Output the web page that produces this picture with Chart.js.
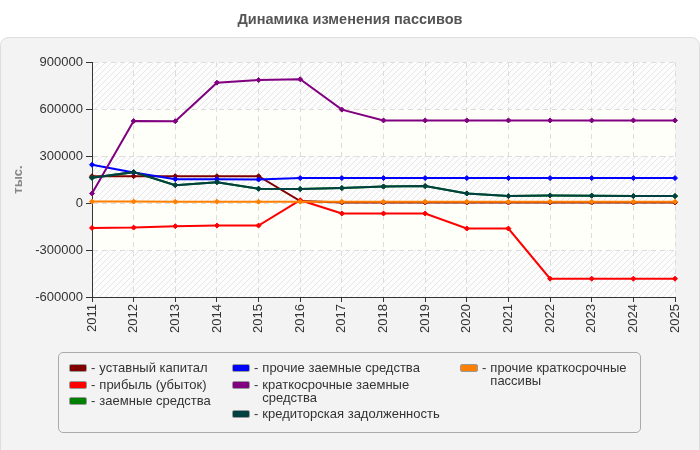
<!DOCTYPE html>
<html>
<head>
<meta charset="utf-8">
<script src="https://cdn.jsdelivr.net/npm/chart.js@4"></script>
<style>
  html,body{margin:0;padding:0;background:#fff;}
  #wrap{position:relative;width:700px;height:450px;}
  canvas{position:absolute;left:0;top:0;}
  #legend{position:absolute;left:58px;top:352px;width:581px;height:79px;border:1px solid #aaa;border-radius:5px;
    font-family:"Liberation Sans",Arial,sans-serif;font-size:13px;color:#333;}
  .col{position:absolute;top:8px;display:flex;flex-direction:column;gap:3.5px;}
  .item{display:flex;align-items:flex-start;line-height:13px;}
  .sw{width:16px;height:6px;border:1px solid #999;border-radius:2px;margin-top:3px;flex:none;}
  .dash{margin:0 4px 0 4px;}
</style>
</head>
<body>
<div id="wrap">
<canvas id="c" width="700" height="450"></canvas>
<div id="legend"></div>
</div>
<script>
const years = ["2011","2012","2013","2014","2015","2016","2017","2018","2019","2020","2021","2022","2023","2024","2025"];
const seriesLabels = ["уставный капитал","прибыль (убыток)","заемные средства","прочие заемные средства","краткосрочные заемные средства","кредиторская задолженность","прочие краткосрочные пассивы"];
const ustavny   = [171000,171000,171000,171000,171000,12000,3000,3000,3000,3000,3000,3000,3000,3000,3000];
const pribyl    = [-159000,-157000,-148000,-144000,-144000,18000,-67000,-67000,-67000,-163000,-163000,-483000,-483000,-483000,-483000];
const zaemnye   = [161000,197000,114000,133000,91000,89000,95000,105000,108000,61000,44000,48000,47000,44000,44000];
const prochieZaem = [244000,195000,152000,152000,150000,159000,159000,159000,159000,159000,159000,159000,159000,159000,159000];
const kratkoZaem  = [61000,523000,522000,768000,785000,790000,596000,527000,527000,527000,527000,527000,527000,527000,527000];
const kreditor    = [161000,197000,114000,133000,91000,89000,95000,105000,108000,61000,44000,48000,47000,44000,44000];
const prochieKratko = [9000,9000,8000,8000,8000,8000,8000,8000,8000,8000,8000,8000,8000,8000,8000];
const yTicks = [-600000,-300000,0,300000,600000,900000];

const seriesData = [ustavny,pribyl,zaemnye,prochieZaem,kratkoZaem,kreditor,prochieKratko];
const colors = ["#800000","#ff0000","#008000","#0000ff","#800080","#004040","#ff8000"];
const orders = [6,5,4,3,2,1,0];

const FONT = '"Liberation Sans", Arial, sans-serif';

function makeHatch(){
  const p = document.createElement('canvas');
  p.width = 6; p.height = 6;
  const g = p.getContext('2d');
  g.fillStyle = '#fdfdfd'; g.fillRect(0,0,6,6);
  g.strokeStyle = '#e6e6e6'; g.lineWidth = 1;
  g.beginPath(); g.moveTo(0,6); g.lineTo(6,0); g.moveTo(-1,1); g.lineTo(1,-1); g.moveTo(5,7); g.lineTo(7,5); g.stroke();
  return g.createPattern(p,'repeat');
}

const bgPlugin = {
  id:'bg',
  beforeDraw(chart){
    const ctx = chart.ctx, a = chart.chartArea, ys = chart.scales.y;
    ctx.save();
    ctx.fillStyle = '#f3f3f3'; ctx.strokeStyle = '#dddddd'; ctx.lineWidth = 1;
    ctx.beginPath();
    ctx.roundRect(0.5,37.5,699,420,8);
    ctx.fill(); ctx.stroke();
    ctx.fillStyle = '#555'; ctx.font = 'bold 14.5px ' + FONT; ctx.textAlign = 'center'; ctx.textBaseline = 'middle';
    ctx.fillText('Динамика изменения пассивов', 350, 20);
    const hatch = makeHatch();
    const t = yTicks.slice().sort((p,q)=>q-p);
    for(let i=0;i<t.length-1;i++){
      const y1 = ys.getPixelForValue(t[i]), y2 = ys.getPixelForValue(t[i+1]);
      ctx.fillStyle = (i%2===0) ? hatch : '#fffffa';
      ctx.fillRect(a.left, y1, a.right-a.left, y2-y1);
    }
    ctx.restore();
  }
};

const chart = new Chart(document.getElementById('c'), {
  type:'line',
  data:{
    labels: years,
    datasets: seriesData.map((d,i)=>({
      label: seriesLabels[i], data: d, borderColor: colors[i], backgroundColor: colors[i],
      pointBorderColor: colors[i], pointBackgroundColor: colors[i],
      borderWidth: 2, pointRadius: 2.5, pointStyle: 'rectRot', pointBorderWidth: 1,
      tension: 0, order: orders[i], fill: false
    }))
  },
  options:{
    responsive:false, animation:false, devicePixelRatio:1,
    layout:{padding:{left:0,right:25,top:62,bottom:0}},
    plugins:{legend:{display:false}, title:{display:false}, tooltip:{enabled:false}},
    scales:{
      x:{
        offset:false,
        grid:{color:'#dddddd', tickColor:'#333', tickLength:5, tickBorderDash:[]},
        border:{color:'#333', width:1, dash:[5,4]},
        ticks:{color:'#333', font:{family:FONT,size:13}, maxRotation:90, minRotation:90, padding:2, autoSkip:false},
        afterFit(s){ s.height = 153; }
      },
      y:{
        min:-600000, max:900000,
        afterBuildTicks(s){ s.ticks = yTicks.map(v=>({value:v})); },
        grid:{color:'#dddddd', tickColor:'#333', tickLength:6, tickBorderDash:[]},
        border:{color:'#333', width:1, dash:[5,4]},
        ticks:{color:'#333', font:{family:FONT,size:13}, padding:3, callback:v=>String(v)},
        title:{display:true, text:'тыс.', color:'#888', font:{family:FONT,size:13,weight:'bold'}, padding:{top:11,bottom:0}},
        afterFit(s){ s.width = 92; }
      }
    }
  },
  plugins:[bgPlugin]
});

const columns = [[0,1,2],[3,4,5],[6]];
const colLeft = [10,173,401];
const colTextW = [140,190,145];
const leg = document.getElementById('legend');
columns.forEach((idxs,ci)=>{
  const col = document.createElement('div');
  col.className='col'; col.style.left = colLeft[ci]+'px';
  idxs.forEach(i=>{
    const it = document.createElement('div'); it.className='item';
    const sw = document.createElement('span'); sw.className='sw'; sw.style.background = colors[i];
    const d = document.createElement('span'); d.className='dash'; d.textContent='-';
    const tx = document.createElement('span'); tx.textContent = seriesLabels[i]; tx.style.maxWidth = colTextW[ci]+'px';
    it.appendChild(sw); it.appendChild(d); it.appendChild(tx);
    col.appendChild(it);
  });
  leg.appendChild(col);
});
</script>
</body>
</html>
